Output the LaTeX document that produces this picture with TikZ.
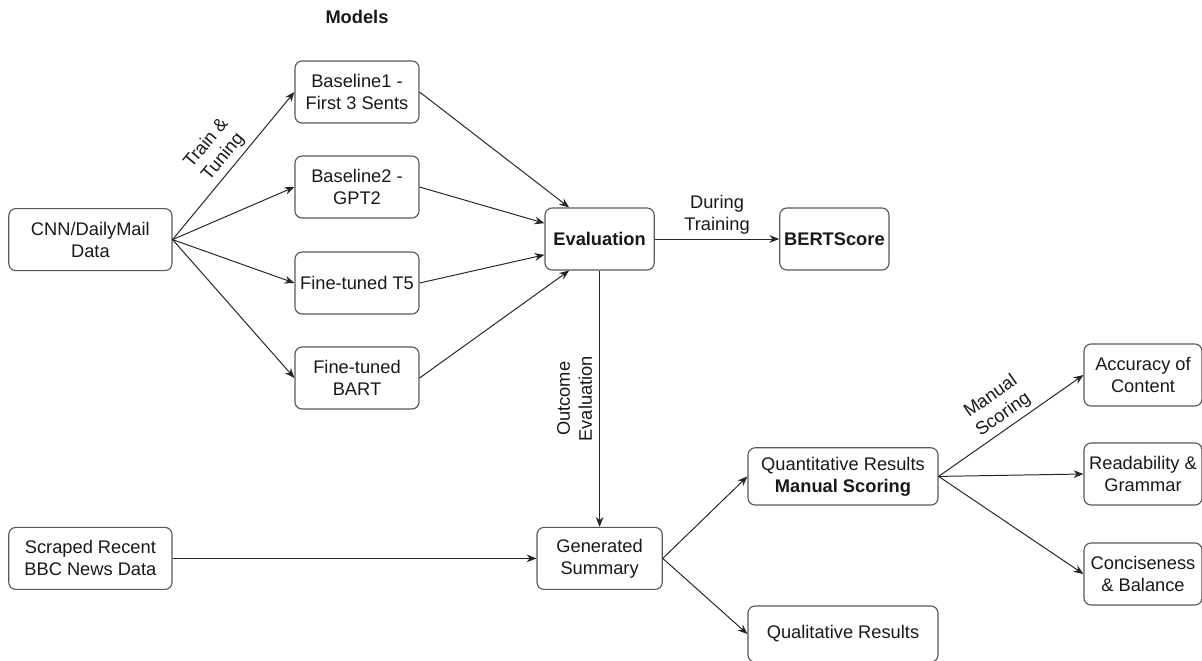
\documentclass[tikz,border=0pt]{standalone}
\usepackage{fontspec}
\setmainfont{Liberation Sans}
\usetikzlibrary{arrows.meta}
\tikzset{
	box/.style={draw=black!65, line width=0.8pt, rounded corners=5pt, align=center, minimum height=1.55cm, inner sep=2pt},
	arr/.style={-{Stealth[length=7pt,width=5.5pt]}, line width=0.7pt, draw=black!85},
	lbl/.style={align=center, inner sep=3pt}
}

\begin{document}
\begin{tikzpicture}[font=\fontsize{13}{15.6}\selectfont, text=black!90]
	\useasboundingbox (0,0) rectangle (30.05,-16.5);
	\node[font=\fontsize{13}{15.6}\selectfont\bfseries] (models) at (8.925,-0.425) {Models};

	% data sources
	\node[box, minimum width=4.08cm] (cnn) at (2.26,-5.99) {CNN/DailyMail\\Data};
	\node[box, minimum width=4.08cm] (bbc) at (2.26,-13.96) {Scraped Recent\\BBC News Data};

	% models
	\node[box, minimum width=3.1cm] (b1) at (8.925,-2.3) {Baseline1 -\\First 3 Sents};
	\node[box, minimum width=3.1cm] (b2) at (8.925,-4.675) {Baseline2 -\\GPT2};
	\node[box, minimum width=3.1cm] (t5) at (8.925,-7.075) {Fine-tuned T5};
	\node[box, minimum width=3.1cm] (bart) at (8.925,-9.45) {Fine-tuned\\BART};

	% evaluation
	\node[box, minimum width=2.73cm, font=\fontsize{13}{15.6}\selectfont\bfseries] (eval) at (14.99,-5.975) {Evaluation};
	\node[box, minimum width=2.73cm, font=\fontsize{13}{15.6}\selectfont\bfseries] (bert) at (20.86,-5.975) {BERTScore};
	\node[box, minimum width=3.13cm] (gen) at (14.99,-13.96) {Generated\\Summary};

	% results
	\node[box, minimum width=4.75cm, minimum height=1.43cm] (quant) at (21.075,-11.91) {Quantitative Results\\\textbf{Manual Scoring}};
	\node[box, minimum width=4.75cm, minimum height=1.4cm] (qual) at (21.075,-15.85) {Qualitative Results};
	\node[box, minimum width=2.95cm] (acc) at (28.575,-9.375) {Accuracy of\\Content};
	\node[box, minimum width=2.95cm] (read) at (28.575,-11.85) {Readability \&\\Grammar};
	\node[box, minimum width=2.95cm] (conc) at (28.575,-14.35) {Conciseness\\\& Balance};

	\draw[arr] (cnn.east) -- node[lbl, midway, sloped, above] {Train \&\\Tuning} (b1.west);
	\foreach \m in {b2,t5,bart}
		\draw[arr] (cnn.east) -- (\m.west);
	\draw[arr] (b1.east) -- (eval.134);
	\draw[arr] (b2.east) -- (eval.164);
	\draw[arr] (t5.east) -- (eval.196);
	\draw[arr] (bart.east) -- (eval.226);

	\draw[arr] (eval.east) -- node[lbl, midway, above] {During\\Training} (bert.west);
	\draw[arr] (eval.south) -- node[lbl, midway, rotate=90, anchor=south, inner sep=5pt] {Outcome\\Evaluation} (gen.north);
	\draw[arr] (bbc.east) -- (gen.west);

	\draw[arr] (gen.east) -- (quant.west);
	\draw[arr] (gen.east) -- (qual.west);
	\draw[arr] (quant.east) -- node[lbl, midway, sloped, above] {Manual\\Scoring} (acc.west);
	\draw[arr] (quant.east) -- (read.west);
	\draw[arr] (quant.east) -- (conc.west);
\end{tikzpicture}
\end{document}
